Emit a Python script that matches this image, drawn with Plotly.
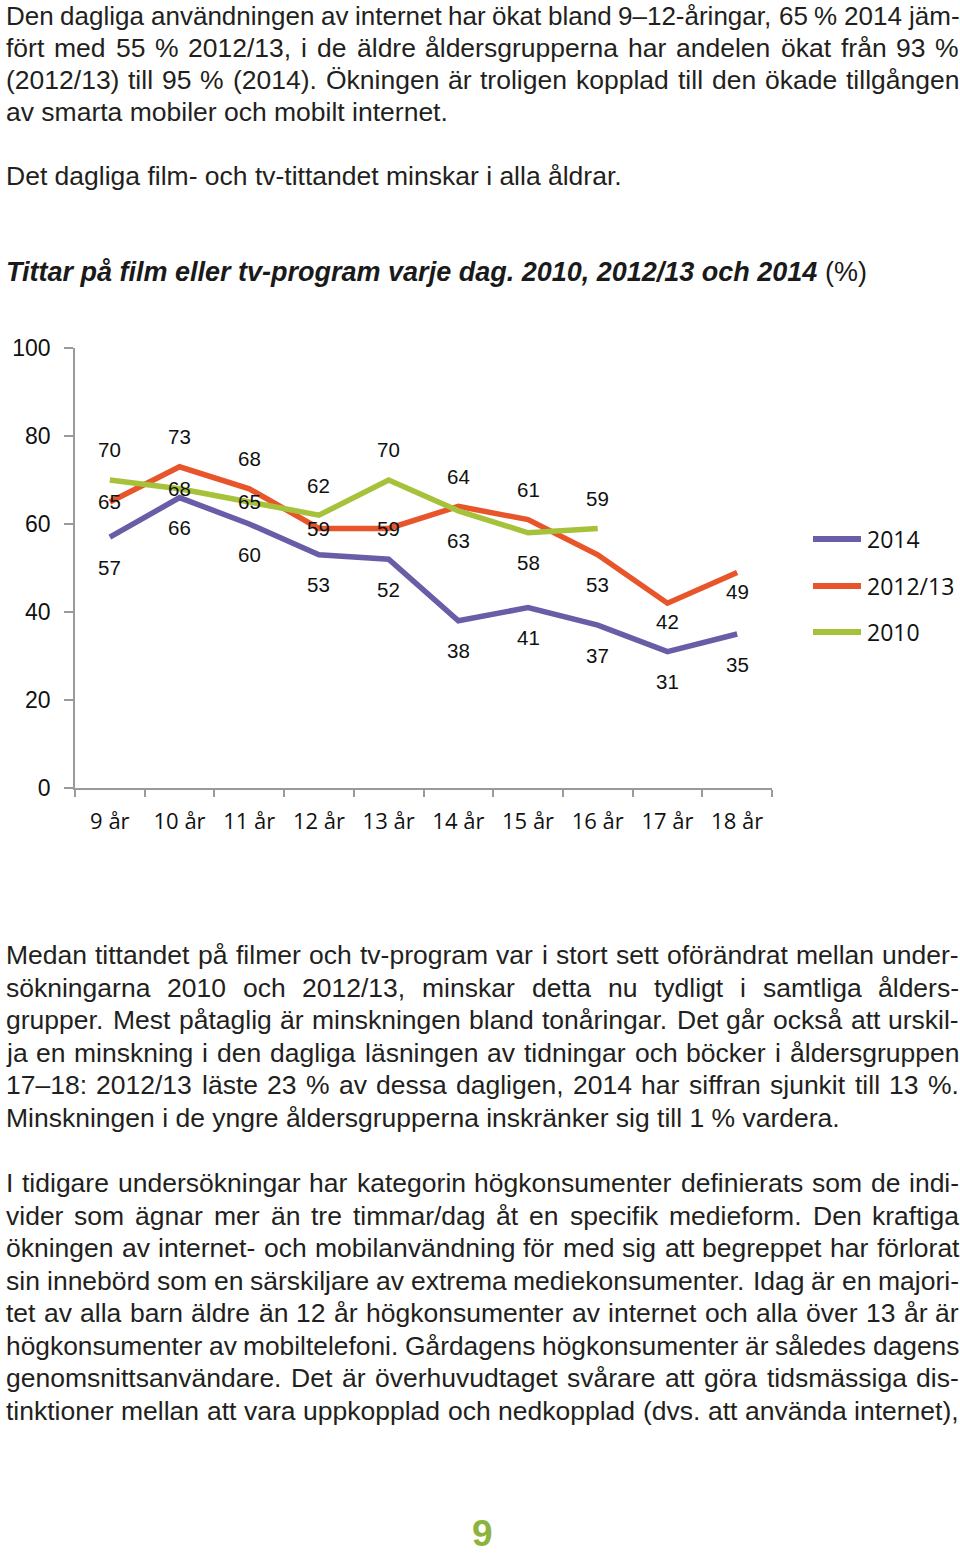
import plotly.graph_objects as go

W, H = 960, 1555

# ---------------- data ----------------
ages = ["9 år", "10 år", "11 år", "12 år", "13 år", "14 år", "15 år", "16 år", "17 år", "18 år"]
series_names = ["2014", "2012/13", "2010"]
v2014 = [57, 66, 60, 53, 52, 38, 41, 37, 31, 35]
v2012 = [65, 73, 68, 59, 59, 64, 61, 53, 42, 49]
v2010 = [70, 68, 65, 62, 70, 63, 58, 59]
y_ticks = [0, 20, 40, 60, 80, 100]

# data-label offsets in px (positive = below the point)
off2014 = [30, 30, 30, 30, 30, 30, 30, 30, 30, 30]
off2012 = [0, -30, -30, 0, 0, -30, -30, 30, 18, 19]
off2010 = [-30, 0, 0, -30, -30, 30, 30, -30]

colors = ["#6a5ca6", "#e8552b", "#a6c23a"]

top_lines = [
    "Den dagliga användningen av internet har ökat bland 9–12-åringar, 65 % 2014 jäm-",
    "fört med 55 % 2012/13, i de äldre åldersgrupperna har andelen ökat från 93 %",
    "(2012/13) till 95 % (2014). Ökningen är troligen kopplad till den ökade tillgången",
    "av smarta mobiler och mobilt internet.",
]
top_line2 = "Det dagliga film- och tv-tittandet minskar i alla åldrar."
title_main = "Tittar på film eller tv-program varje dag. 2010, 2012/13 och 2014"
title_unit = "(%)"
para2 = [
    "Medan tittandet på filmer och tv-program var i stort sett oförändrat mellan under-",
    "sökningarna 2010 och 2012/13, minskar detta nu tydligt i samtliga ålders-",
    "grupper. Mest påtaglig är minskningen bland tonåringar. Det går också att urskil-",
    "ja en minskning i den dagliga läsningen av tidningar och böcker i åldersgruppen",
    "17–18: 2012/13 läste 23 % av dessa dagligen, 2014 har siffran sjunkit till 13 %.",
    "Minskningen i de yngre åldersgrupperna inskränker sig till 1 % vardera.",
]
para3 = [
    "I tidigare undersökningar har kategorin högkonsumenter definierats som de indi-",
    "vider som ägnar mer än tre timmar/dag åt en specifik medieform. Den kraftiga",
    "ökningen av internet- och mobilanvändning för med sig att begreppet har förlorat",
    "sin innebörd som en särskiljare av extrema mediekonsumenter. Idag är en majori-",
    "tet av alla barn äldre än 12 år högkonsumenter av internet och alla över 13 år är",
    "högkonsumenter av mobiltelefoni. Gårdagens högkonsumenter är således dagens",
    "genomsnittsanvändare. Det är överhuvudtaget svårare att göra tidsmässiga dis-",
    "tinktioner mellan att vara uppkopplad och nedkopplad (dvs. att använda internet),",
]
page_no = "9"

# ---------------- helpers ----------------
TXT = "#231f20"
BODY_FONT = "Liberation Sans"
BODY_SIZE = 26.5

ARIAL = {}
for ch, w in zip("abcdefghijklmnopqrstuvwxyz",
                 [556, 556, 500, 556, 556, 278, 556, 556, 222, 222, 500, 222, 833,
                  556, 556, 556, 556, 333, 500, 278, 556, 500, 722, 500, 500, 500]):
    ARIAL[ch] = w
for ch, w in zip("ABCDEFGHIJKLMNOPQRSTUVWXYZ",
                 [667, 667, 722, 722, 667, 611, 778, 722, 278, 500, 667, 556, 833,
                  722, 778, 667, 778, 722, 667, 611, 722, 667, 944, 667, 667, 611]):
    ARIAL[ch] = w
ARIAL.update({"å": 556, "ä": 556, "ö": 556, "é": 556, "Å": 667, "Ä": 667, "Ö": 778,
              " ": 278, ",": 278, ".": 278, "%": 889, "(": 333, ")": 333, "/": 278,
              "-": 333, "–": 556, ":": 278})
for d in "0123456789":
    ARIAL[d] = 556


def text_w(s, size):
    return sum(ARIAL.get(c, 556) for c in s) / 1000.0 * size


annotations = []
shapes = []


def px_x(px):
    return px / W


def px_y(py):
    return 1 - py / H


def add_line(text, ypx, justify, x0=5, x1=958, size=BODY_SIZE):
    if not justify:
        annotations.append(dict(text=text, x=px_x(x0), y=px_y(ypx), xref="paper", yref="paper",
                                xanchor="left", yanchor="middle", showarrow=False, borderpad=0,
                                font=dict(family=BODY_FONT, size=size, color=TXT)))
        return
    words = text.split(" ")
    n_gaps = len(words) - 1
    # keep a minimum word gap of 0.25 em by shrinking the line slightly if needed
    k = sum(text_w(w, 1.0) for w in words)
    size = min(size, (x1 - x0) / (k + 0.25 * n_gaps))
    widths = [text_w(w, size) for w in words]
    gap = (x1 - x0 - sum(widths)) / n_gaps
    x = x0
    for w, wd in zip(words, widths):
        annotations.append(dict(text=w, x=px_x(x), y=px_y(ypx), xref="paper", yref="paper",
                                xanchor="left", yanchor="middle", showarrow=False, borderpad=0,
                                font=dict(family=BODY_FONT, size=size, color=TXT)))
        x += wd + gap


# ---------------- figure ----------------
fig = go.Figure()

all_vals = [v2014, v2012, v2010]
all_offs = [off2014, off2012, off2010]
for name, vals, col in zip(series_names, all_vals, colors):
    fig.add_trace(go.Scatter(x=ages[:len(vals)], y=vals, mode="lines", name=name,
                             line=dict(color=col, width=5.5), showlegend=False,
                             hoverinfo="skip"))

for vals, offs in zip(all_vals, all_offs):
    for i, v in enumerate(vals):
        annotations.append(dict(x=ages[i], y=v, xref="x", yref="y", text=str(v),
                                showarrow=False, yshift=-offs[i],
                                font=dict(family="Liberation Sans", size=20.5, color="#111")))

# legend (custom, long line samples)
leg_y = [539, 586, 632]
for name, col, ly in zip(series_names, colors, leg_y):
    shapes.append(dict(type="line", xref="paper", yref="paper",
                       x0=px_x(813), x1=px_x(861), y0=px_y(ly), y1=px_y(ly),
                       line=dict(color=col, width=6)))
    annotations.append(dict(text=name, x=px_x(866), y=px_y(ly), xref="paper", yref="paper",
                            xanchor="left", yanchor="middle", showarrow=False, borderpad=0,
                            font=dict(family="Open Sans", size=23, color="#111")))

# body text
top_y = [16, 48, 80, 112]
for i, line in enumerate(top_lines):
    add_line(line, top_y[i], justify=(i < len(top_lines) - 1))
add_line(top_line2, 176, justify=False)

annotations.append(dict(text="<b><i>" + title_main + "</i></b> " + title_unit,
                        x=px_x(5), y=px_y(272), xref="paper", yref="paper",
                        xanchor="left", yanchor="middle", showarrow=False, borderpad=0,
                        font=dict(family=BODY_FONT, size=27, color="#1a1a1a")))

for i, line in enumerate(para2):
    add_line(line, 955 + 32.6 * i, justify=(i < len(para2) - 1))
for i, line in enumerate(para3):
    add_line(line, 1183 + 32.55 * i, justify=True)

annotations.append(dict(text="<b>" + page_no + "</b>", x=px_x(482), y=0,
                        xref="paper", yref="paper", xanchor="center", yanchor="bottom",
                        showarrow=False, borderpad=0,
                        font=dict(family="Liberation Sans", size=37, color="#8cb43c")))

AX = "#9a9a9a"
fig.update_layout(
    width=W, height=H, autosize=False,
    margin=dict(l=0, r=0, t=0, b=0, autoexpand=False),
    paper_bgcolor="white", plot_bgcolor="white",
    xaxis=dict(domain=[px_x(75), px_x(772)], type="category", range=[-0.5, 9.5],
               showline=True, linecolor=AX, linewidth=1.5, ticks="outside",
               tickson="boundaries", ticklen=7, tickcolor=AX, tickwidth=1.5,
               showgrid=False, zeroline=False, ticklabelstandoff=13, automargin=False,
               tickfont=dict(family="Open Sans", size=22, color="#111")),
    yaxis=dict(domain=[px_y(788), px_y(348)], range=[0, 100], tickvals=y_ticks,
               showline=True, linecolor=AX, linewidth=1.5, ticks="outside",
               ticklen=9, tickcolor=AX, tickwidth=1.5, showgrid=False, zeroline=False,
               ticklabelstandoff=9, automargin=False,
               tickfont=dict(family="Liberation Sans", size=23, color="#111")),
    annotations=annotations,
    shapes=shapes,
)

fig.write_html(
    "out.html",
    config={"displayModeBar": False},
    post_script="document.body.style.margin='0';document.body.style.overflow='hidden';",
)
